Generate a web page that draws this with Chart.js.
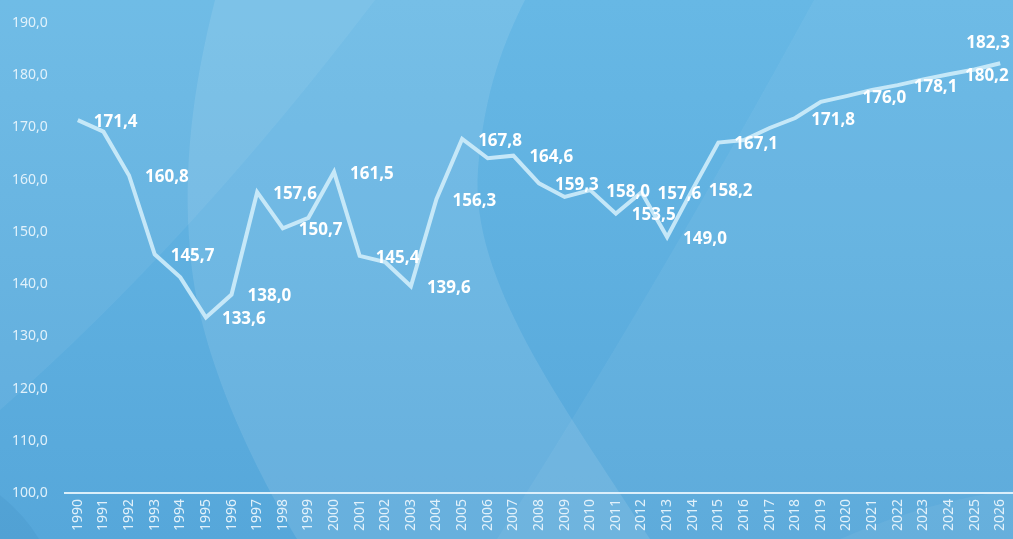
<!DOCTYPE html>
<html>
<head>
<meta charset="utf-8">
<script src="https://cdn.jsdelivr.net/npm/chart.js@4.4.0/dist/chart.umd.min.js"></script>
<style>
  body{margin:0;background:#5fb0e0;}
  #wrap{width:1013px;height:539px;position:relative;}
</style>
</head>
<body>
<div id="wrap"><canvas id="lineChart"></canvas></div>
<script>
// data
const years = ['1990','1991','1992','1993','1994','1995','1996','1997','1998','1999',
  '2000','2001','2002','2003','2004','2005','2006','2007','2008','2009',
  '2010','2011','2012','2013','2014','2015','2016','2017','2018','2019',
  '2020','2021','2022','2023','2024','2025','2026'];
const values = [171.4, 169.2, 160.8, 145.7, 141.3, 133.6, 138.0, 157.6, 150.7, 152.7,
  161.5, 145.4, 144.2, 139.6, 156.3, 167.8, 164.1, 164.6, 159.3, 156.7,
  158.0, 153.5, 157.6, 149.0, 158.2, 167.1, 167.6, 169.9, 171.8, 174.9,
  176.0, 177.2, 178.1, 179.2, 180.2, 181.1, 182.3];
// years that carry a value label
const labelledYears = ['1990','1992','1993','1995','1996','1997','1998','2000','2001','2003',
  '2004','2005','2007','2008','2010','2011','2012','2013','2014','2015',
  '2018','2020','2022','2024','2026'];
const yMin = 100, yMax = 190, yStep = 10;

const fmt = v => v.toFixed(1).replace('.', ',');

// blue background with the soft shapes
const bgPlugin = {
  id: 'bg',
  beforeDraw(chart){
    const c = chart.ctx, w = chart.width, h = chart.height;
    c.save();
    let g = c.createLinearGradient(0, 0, 0, h);
    g.addColorStop(0, '#67b8e5');
    g.addColorStop(1, '#56a7da');
    c.fillStyle = g;
    c.fillRect(0, 0, w, h);

    // top-left lighter wedge
    c.fillStyle = 'rgba(255,255,255,0.06)';
    c.beginPath();
    c.moveTo(0, 0);
    c.lineTo(375, 0);
    c.quadraticCurveTo(192, 241, 0, 410);
    c.closePath();
    c.fill();

    // big light oval
    c.fillStyle = 'rgba(255,255,255,0.10)';
    c.beginPath();
    c.moveTo(215, 0);
    c.bezierCurveTo(192, 90, 183, 170, 190, 250);
    c.bezierCurveTo(197, 350, 250, 460, 297, 539);
    c.lineTo(650, 539);
    c.bezierCurveTo(560, 400, 470, 280, 478, 170);
    c.bezierCurveTo(484, 90, 505, 40, 525, 0);
    c.closePath();
    c.fill();

    // right side lighter area
    c.fillStyle = 'rgba(255,255,255,0.05)';
    c.beginPath();
    c.moveTo(814, 0);
    c.lineTo(w, 0);
    c.lineTo(w, h);
    c.lineTo(497, h);
    c.quadraticCurveTo(650, 300, 814, 0);
    c.closePath();
    c.fill();

    // bottom right arc
    c.beginPath();
    c.moveTo(840, h);
    c.quadraticCurveTo(930, 500, w, 490);
    c.lineTo(w, h);
    c.closePath();
    c.fill();

    // bottom left corner
    c.fillStyle = 'rgba(0,60,120,0.05)';
    c.beginPath();
    c.moveTo(0, 495);
    c.quadraticCurveTo(25, 515, 39, h);
    c.lineTo(0, h);
    c.closePath();
    c.fill();
    c.restore();
  }
};

// value labels to the right of the chosen points
const valueLabels = {
  id: 'valueLabels',
  afterDatasetsDraw(chart){
    const c = chart.ctx;
    const meta = chart.getDatasetMeta(0);
    c.save();
    c.font = 'bold 17px "Noto Sans"';
    c.fillStyle = '#ffffff';
    c.textBaseline = 'middle';
    meta.data.forEach((pt, i) => {
      if (!labelledYears.includes(years[i])) return;
      const txt = fmt(values[i]);
      const tw = c.measureText(txt).width;
      if (pt.x + 16 + tw > chart.width) {
        c.textAlign = 'right';
        c.fillText(txt, chart.width - 3, pt.y - 20);
      } else {
        c.textAlign = 'left';
        c.fillText(txt, pt.x + 16, pt.y + 2);
      }
    });
    c.restore();
  }
};

const ctx = document.getElementById('lineChart').getContext('2d');
const lineChart = new Chart(ctx, {
  type: 'line',
  data: {
    labels: years,
    datasets: [{
      data: values,
      borderColor: 'rgba(205,235,250,0.92)',
      borderWidth: 4,
      pointRadius: 0,
      tension: 0,
      fill: false
    }]
  },
  options: {
    responsive: true,
    maintainAspectRatio: false,
    animation: false,
    layout: { padding: { left: 12, top: 23, right: 0, bottom: 0 } },
    plugins: {
      legend: { display: false },
      tooltip: { enabled: false }
    },
    scales: {
      x: {
        offset: true,
        grid: { display: false, drawTicks: false },
        border: { display: true, color: 'rgba(225,242,252,0.95)', width: 2 },
        ticks: {
          color: 'rgba(235,246,253,0.92)',
          font: { family: 'Noto Sans', size: 14 },
          minRotation: 90,
          maxRotation: 90,
          autoSkip: false,
          padding: 6
        },
        afterFit(scale){
          scale.height = 46;
          scale.paddingLeft = 0;
          scale.paddingRight = 0;
        }
      },
      y: {
        min: yMin,
        max: yMax,
        grid: { display: false, drawTicks: false },
        border: { display: false },
        ticks: {
          stepSize: yStep,
          color: 'rgba(235,246,253,0.92)',
          font: { family: 'Noto Sans', size: 14 },
          crossAlign: 'far',
          callback: v => fmt(v)
        },
        afterFit(scale){
          scale.width = 53;
          scale.paddingTop = 0;
          scale.paddingBottom = 0;
        }
      }
    }
  },
  plugins: [bgPlugin, valueLabels]
});
</script>
</body>
</html>
